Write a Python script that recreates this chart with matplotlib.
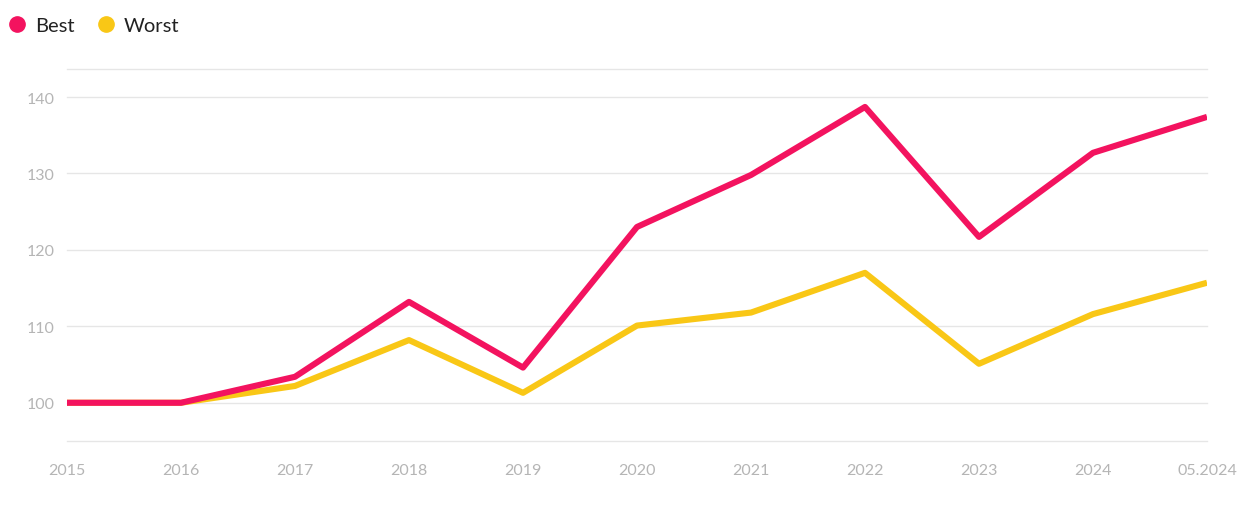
import matplotlib.pyplot as plt
from matplotlib.lines import Line2D

periods = ["2015", "2016", "2017", "2018", "2019", "2020", "2021", "2022", "2023", "2024", "05.2024"]
best = [100, 100, 103.4, 113.2, 104.6, 123.0, 129.8, 138.7, 121.7, 132.7, 137.4]
worst = [100, 100, 102.2, 108.2, 101.3, 110.1, 111.8, 117.0, 105.1, 111.6, 115.7]
yticks = [100, 110, 120, 130, 140]

pink = "#F3135F"
yellow = "#F9C716"
grey_text = "#b5b5b5"

plt.rcParams['font.family'] = ['Lato', 'DejaVu Sans']

fig = plt.figure(figsize=(12.5, 5.06), dpi=100)
ax = fig.add_axes([0.0536, 0.1265, 0.912, 0.7351])

x = list(range(len(periods)))
ax.plot(x, worst, color=yellow, lw=4.4, solid_capstyle="butt", zorder=3)
ax.plot(x, best, color=pink, lw=4.4, solid_capstyle="butt", zorder=4)

ax.set_xlim(0, len(periods) - 1)
ax.set_ylim(95, 143.66)
ax.set_xticks(x)
ax.set_xticklabels(periods)
ax.set_yticks(yticks)

for y in yticks + [95, 143.66]:
    ax.axhline(y, color="#e6e6e6", lw=1, zorder=1, clip_on=False)

for s in ax.spines.values():
    s.set_visible(False)
ax.tick_params(axis="both", length=0, labelcolor=grey_text, labelsize=11.5)
ax.tick_params(axis="x", pad=16)
ax.tick_params(axis="y", pad=9)

handles = [
    Line2D([], [], marker="o", ls="", color=pink, markersize=11),
    Line2D([], [], marker="o", ls="", color=yellow, markersize=11),
]
fig.legend(handles, ["Best", "Worst"], loc="upper left", bbox_to_anchor=(-0.009, 1.0),
           ncol=2, frameon=False, fontsize=14.5, handlelength=1.0, handletextpad=0.4,
           columnspacing=1.05, labelcolor="#222222")

fig.savefig("out.png", dpi=100)
